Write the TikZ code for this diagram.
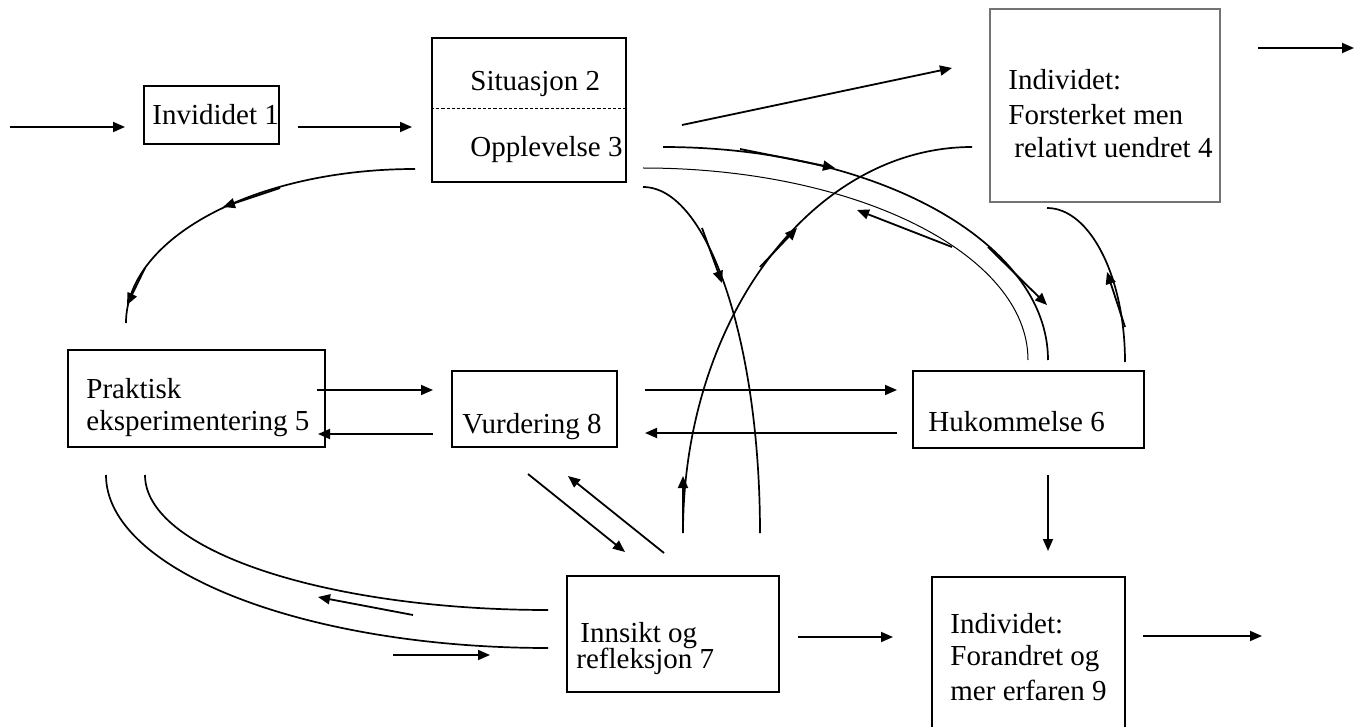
\documentclass[tikz,border=0pt]{standalone}
\usepackage{fontspec}
\setmainfont{Liberation Serif}
\usetikzlibrary{arrows.meta,fit}
\begin{document}
\begin{tikzpicture}[x=0.5pt,y=-0.5pt,
  box/.style={draw, line width=1pt, inner sep=0pt},
  softbox/.style={draw=black!55, line width=0.6pt, inner sep=0pt},
  txt/.style={anchor=base west, inner sep=0pt, font=\fontsize{14.5}{17}\selectfont},
  arr/.style={line width=0.9pt, -{Triangle[length=6pt,width=5pt]}},
  arc/.style={line width=0.85pt},
  thinarc/.style={line width=0.5pt}]
\useasboundingbox (0,0) rectangle (1360,727);

% boxes
\node[box, fit={(144,86) (279,144)}] (b1) {};
\node[box, fit={(432,38) (626,182)}] (b23) {};
\node[softbox, fit={(990,9) (1220,202)}] (b4) {};
\node[box, fit={(68,350) (325,447)}] (b5) {};
\node[box, fit={(452,371) (617,447)}] (b8) {};
\node[box, fit={(913,371) (1144,448)}] (b6) {};
\node[box, fit={(567,576) (779,692)}] (b7) {};
\node[box, fit={(932,577) (1125,740)}] (b9) {};
\draw[line width=0.4pt, dash pattern=on 1.6pt off 1pt] (b23.west |- 0,108) coordinate (dl) -- (b23.east |- 0,108) coordinate (dr);

% labels
\node[txt] (t1) at (152,125) {Invididet 1};
\node[txt] (t2) at (470,91) {Situasjon 2};
\node[txt] (t3) at (470,157) {Opplevelse 3};
\node[txt] (t4a) at (1008,90) {Individet:};
\node[txt] (t4b) at (1008,125) {Forsterket men};
\node[txt] (t4c) at (1014,158) {relativt uendret 4};
\node[txt] (t5a) at (86,398) {Praktisk};
\node[txt] (t5b) at (86,430) {eksperimentering 5};
\node[txt] (t8) at (462,433) {Vurdering 8};
\node[txt] (t6) at (928,431) {Hukommelse 6};
\node[txt] (t7a) at (580,642) {Innsikt og};
\node[txt] (t7b) at (576,668) {refleksjon 7};
\node[txt] (t9a) at (950,633) {Individet:};
\node[txt] (t9b) at (950,665) {Forandret og};
\node[txt] (t9c) at (950,700) {mer erfaren 9};

% end points of the straight connectors
\coordinate (inS) at (10,127);   \coordinate (inE) at (125,127);
\coordinate (o1S) at (298,127);  \coordinate (o1E) at (412,127);
\coordinate (o3S) at (682,125);  \coordinate (o3E) at (952,68);
\coordinate (o4S) at (1258,48);  \coordinate (o4E) at (1354,48);
\coordinate (p5S) at (317,390);  \coordinate (p5E) at (433,390);
\coordinate (v5S) at (433,434);  \coordinate (v5E) at (318,434);
\coordinate (v6S) at (645,390);  \coordinate (v6E) at (897,390);
\coordinate (h8S) at (897,433);  \coordinate (h8E) at (645,433);
\coordinate (h9S) at (1048,475); \coordinate (h9E) at (1048,551);
\coordinate (i9S) at (798,637);  \coordinate (i9E) at (893,637);
\coordinate (o9S) at (1143,636); \coordinate (o9E) at (1262,636);
\coordinate (v7S) at (528,474);  \coordinate (v7E) at (625,552);
\coordinate (i8S) at (664,553);  \coordinate (i8E) at (568,476);

\draw[arr] (inS) -- (inE);
\draw[arr] (o1S) -- (o1E);
\draw[arr] (o3S) -- (o3E);
\draw[arr] (o4S) -- (o4E);
\draw[arr] (p5S) -- (p5E);
\draw[arr] (v5S) -- (v5E);
\draw[arr] (v6S) -- (v6E);
\draw[arr] (h8S) -- (h8E);
\draw[arr] (h9S) -- (h9E);
\draw[arr] (i9S) -- (i9E);
\draw[arr] (o9S) -- (o9E);
\draw[arr] (v7S) -- (v7E);
\draw[arr] (i8S) -- (i8E);

% curved paths
\coordinate (fS) at (415,169);  \coordinate (fE) at (126,323);
\coordinate (aS) at (683,533);  \coordinate (aE) at (972,147);
\coordinate (bS) at (643,187);  \coordinate (bE) at (760,533);
\coordinate (cS) at (663,147);  \coordinate (cE) at (1048,360);
\coordinate (dS) at (643,168);  \coordinate (dE) at (1028,360);
\coordinate (eS) at (1047,208); \coordinate (eE) at (1125,362);
\coordinate (gS) at (106,475);  \coordinate (gE) at (548,648);
\coordinate (hS) at (145,475);  \coordinate (hE) at (548,610);

\draw[arc] (fS) .. controls (255,169) and (126,238) .. (fE);
\draw[arc] (aS) .. controls (683,320) and (812,147) .. (aE);
\draw[arc] (bS) .. controls (708,187) and (760,342) .. (bE);
\draw[arc] (cS) .. controls (876,147) and (1048,242) .. (cE);
\draw[thinarc] (dS) .. controls (856,168) and (1028,254) .. (dE);
\draw[arc] (eS) .. controls (1090,208) and (1125,277) .. (eE);
\draw[arc] (gS) .. controls (106,570) and (304,648) .. (gE);
\draw[arc] (hS) .. controls (145,550) and (325,610) .. (hE);

% direction marks along the curves
\coordinate (f1S) at (280,188); \coordinate (f1E) at (223,207);
\coordinate (f2S) at (145,268); \coordinate (f2E) at (127,305);
\coordinate (c1S) at (740,149); \coordinate (c1E) at (835,168);
\coordinate (c2S) at (988,247); \coordinate (c2E) at (1047,305);
\coordinate (d1S) at (952,247); \coordinate (d1E) at (857,210);
\coordinate (b1S) at (702,228); \coordinate (b1E) at (722,283);
\coordinate (a1S) at (760,267); \coordinate (a1E) at (797,228);
\coordinate (a2S) at (683,533); \coordinate (a2E) at (683,476);
\coordinate (e1S) at (1125,327);\coordinate (e1E) at (1107,272);
\coordinate (g1S) at (413,615); \coordinate (g1E) at (318,597);
\coordinate (h1S) at (393,655); \coordinate (h1E) at (490,655);

\foreach \m in {f1,f2,c1,c2,d1,b1,a1,a2,e1,g1,h1}
  \draw[arr] (\m S) -- (\m E);
\end{tikzpicture}
\end{document}
